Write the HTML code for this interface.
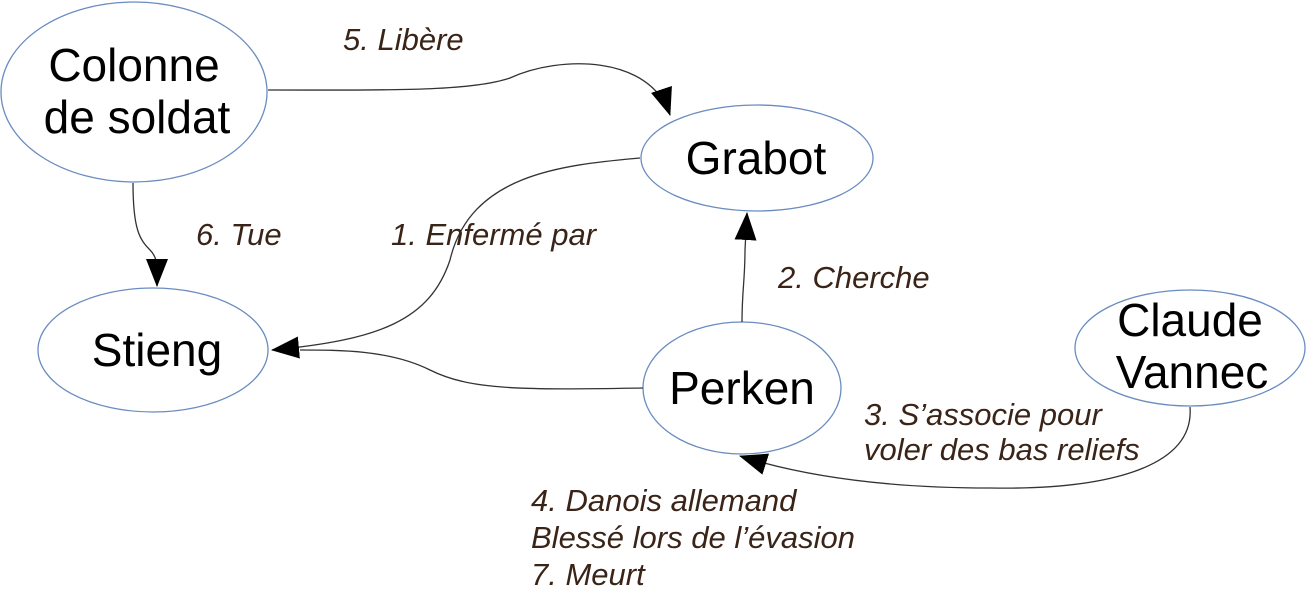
<!DOCTYPE html>
<html><head><style>
body{margin:0;background:#fff;}
svg{display:block;}
.n{font-family:"Liberation Sans",sans-serif;font-size:46px;fill:#000;text-anchor:middle;}
.l{font-family:"Liberation Sans",sans-serif;font-size:31px;font-style:italic;fill:#3a2418;}
</style></head><body>
<svg width="1307" height="602" viewBox="0 0 1307 602" xmlns="http://www.w3.org/2000/svg">
<defs>
<marker id="b" markerWidth="28" markerHeight="22" refX="27" refY="11" orient="auto" markerUnits="userSpaceOnUse" viewBox="0 0 28 22"><path d="M0,0 L28,11 L0,22 z" fill="#000"/></marker></defs>
<g fill="#fff" stroke="#6a8cc0" stroke-width="1.3">
<ellipse cx="134" cy="92" rx="133" ry="90"/>
<ellipse cx="153" cy="350" rx="115" ry="62"/>
<ellipse cx="757" cy="158" rx="116" ry="53"/>
<ellipse cx="742" cy="388" rx="99" ry="66"/>
<ellipse cx="1190" cy="348" rx="115" ry="58"/>
</g>
<g fill="none" stroke="#333" stroke-width="1.3">
<path d="M268,90 C380,90 470,92 510,78 C560,55 650,55 670,115" marker-end="url(#b)"/>
<path d="M133,183 C133,230 140,240 150,250 C158,258 157,265 157,286" marker-end="url(#b)"/>
<path d="M640,158 C560,165 470,175 450,260 C430,320 380,340 272,350" marker-end="url(#b)"/>
<path d="M643,388 C520,390 470,390 430,370 C390,350 340,350 300,350"/>
<path d="M742,322 C742,290 745,280 745,250 L747,213" marker-end="url(#b)"/>
<path d="M1190,407 C1195,470 1100,490 990,488 C880,488 800,475 740,456" marker-end="url(#b)"/>
</g>
<text class="n" x="134" y="81">Colonne</text>
<text class="n" x="137" y="133">de soldat</text>
<text class="n" x="157" y="366">Stieng</text>
<text class="n" x="756" y="174">Grabot</text>
<text class="n" x="742" y="404">Perken</text>
<text class="n" x="1190" y="336">Claude</text>
<text class="n" x="1192" y="388">Vannec</text>
<text class="l" x="343" y="50">5. Libère</text>
<text class="l" x="196" y="245">6. Tue</text>
<text class="l" x="391" y="245">1. Enfermé par</text>
<text class="l" x="778" y="288">2. Cherche</text>
<text class="l" x="864" y="425">3. S’associe pour</text>
<text class="l" x="864" y="460">voler des bas reliefs</text>
<text class="l" x="531" y="511">4. Danois allemand</text>
<text class="l" x="531" y="548">Blessé lors de l’évasion</text>
<text class="l" x="531" y="585">7. Meurt</text>
</svg>
</body></html>
